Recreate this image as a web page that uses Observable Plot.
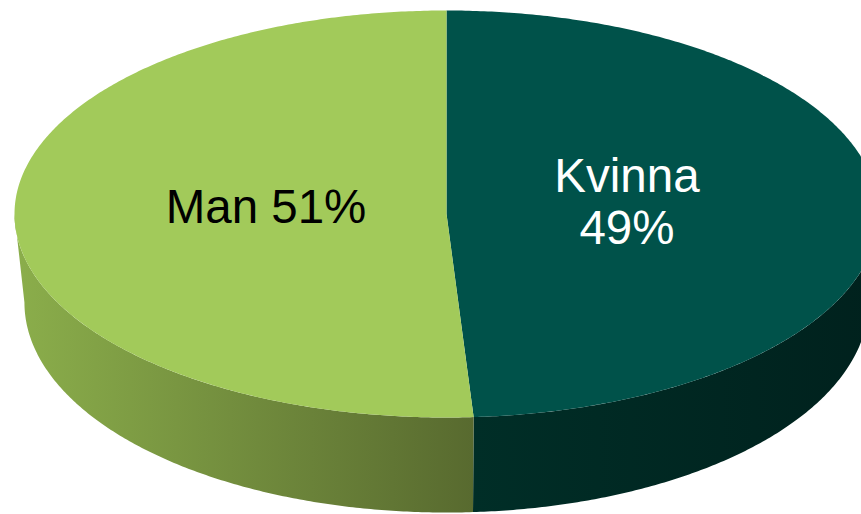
<!DOCTYPE html>
<html><head><meta charset="utf-8">
<script src="https://cdn.jsdelivr.net/npm/d3@7"></script>
<script src="https://cdn.jsdelivr.net/npm/@observablehq/plot@0.6"></script>
<style>
html,body{margin:0;padding:0;background:#fff;overflow:hidden;}
#chart{width:861px;height:514px;overflow:hidden;}
#chart svg{display:block;}
</style>
</head><body><div id="chart"></div>
<script>
// ---- data ----
const categories = ["Kvinna", "Man"];
const shares = [49, 51];
const labelTexts = ["Kvinna\n49%", "Man 51%"];

// ---- styles ----
const topFill = {Kvinna: "#00524a", Man: "#a2ca5a"};
const sideFill = {Kvinna: "url(#sideKvinna)", Man: "url(#sideMan)"};
const sideStops = {Kvinna: ["#002e27", "#00211d"], Man: ["#8bae4b", "#586a2f"]};
const textFill = {Kvinna: "#ffffff", Man: "#000000"};

// ---- 3D disc projection (layout, in normalized units) ----
const topFace = {sx: 1, cy: 0, sy: 1};
const bottomFace = {sx: 0.977, cy: -0.435, sy: 1.032};
const labelRadius = 0.418;

const rows = categories.map((c, i) => ({category: c, share: shares[i], label: labelTexts[i]}));
const slices = d3.pie().sort(null).value(d => d.share).startAngle(0).endAngle(2 * Math.PI)(rows);

const step = 0.5 * Math.PI / 180;
function arcPts(a0, a1, face) {
  const n = Math.max(2, Math.ceil((a1 - a0) / step));
  return d3.range(n + 1).map(i => {
    const t = a0 + (a1 - a0) * i / n;
    return {x: face.sx * Math.sin(t), y: face.cy + face.sy * Math.cos(t)};
  });
}

const sideMarks = [], topMarks = [], textMarks = [];
for (const s of slices) {
  const cat = s.data.category;
  const f0 = Math.max(s.startAngle, Math.PI / 2), f1 = Math.min(s.endAngle, 3 * Math.PI / 2);
  if (f1 > f0) {
    const pts = arcPts(f0, f1, topFace).concat(arcPts(f0, f1, bottomFace).reverse());
    sideMarks.push(Plot.line(pts, {x: "x", y: "y", fill: sideFill[cat], stroke: "none", curve: "linear-closed"}));
  }
  const tp = [{x: 0, y: 0}].concat(arcPts(s.startAngle, s.endAngle, topFace));
  topMarks.push(Plot.line(tp, {x: "x", y: "y", fill: topFill[cat], stroke: "none", curve: "linear-closed"}));
  const mid = (s.startAngle + s.endAngle) / 2;
  textMarks.push(Plot.text([s.data], {
    x: () => labelRadius * Math.sin(mid),
    y: () => labelRadius * Math.cos(mid),
    text: "label", fill: textFill[cat], fontSize: 47.5, lineHeight: 1.1, dy: -10,
    fontFamily: "'Liberation Sans', Arial, sans-serif"
  }));
}

const svg = Plot.plot({
  width: 861, height: 514, margin: 0,
  style: {background: "#fff", overflow: "hidden"},
  x: {domain: [-1, 1], range: [14, 878], axis: null},
  y: {domain: [-1, 1], range: [417, 10], axis: null},
  marks: [...sideMarks, ...topMarks, ...textMarks]
});

const defs = d3.create("svg:defs");
for (const c of categories) {
  const g = defs.append("linearGradient").attr("id", "side" + c)
    .attr("x1", 0).attr("x2", 1).attr("y1", 0).attr("y2", 0);
  g.append("stop").attr("offset", 0).attr("stop-color", sideStops[c][0]);
  g.append("stop").attr("offset", 1).attr("stop-color", sideStops[c][1]);
}
svg.insertBefore(defs.node(), svg.firstChild);
document.getElementById("chart").appendChild(svg);
</script>
</body></html>
